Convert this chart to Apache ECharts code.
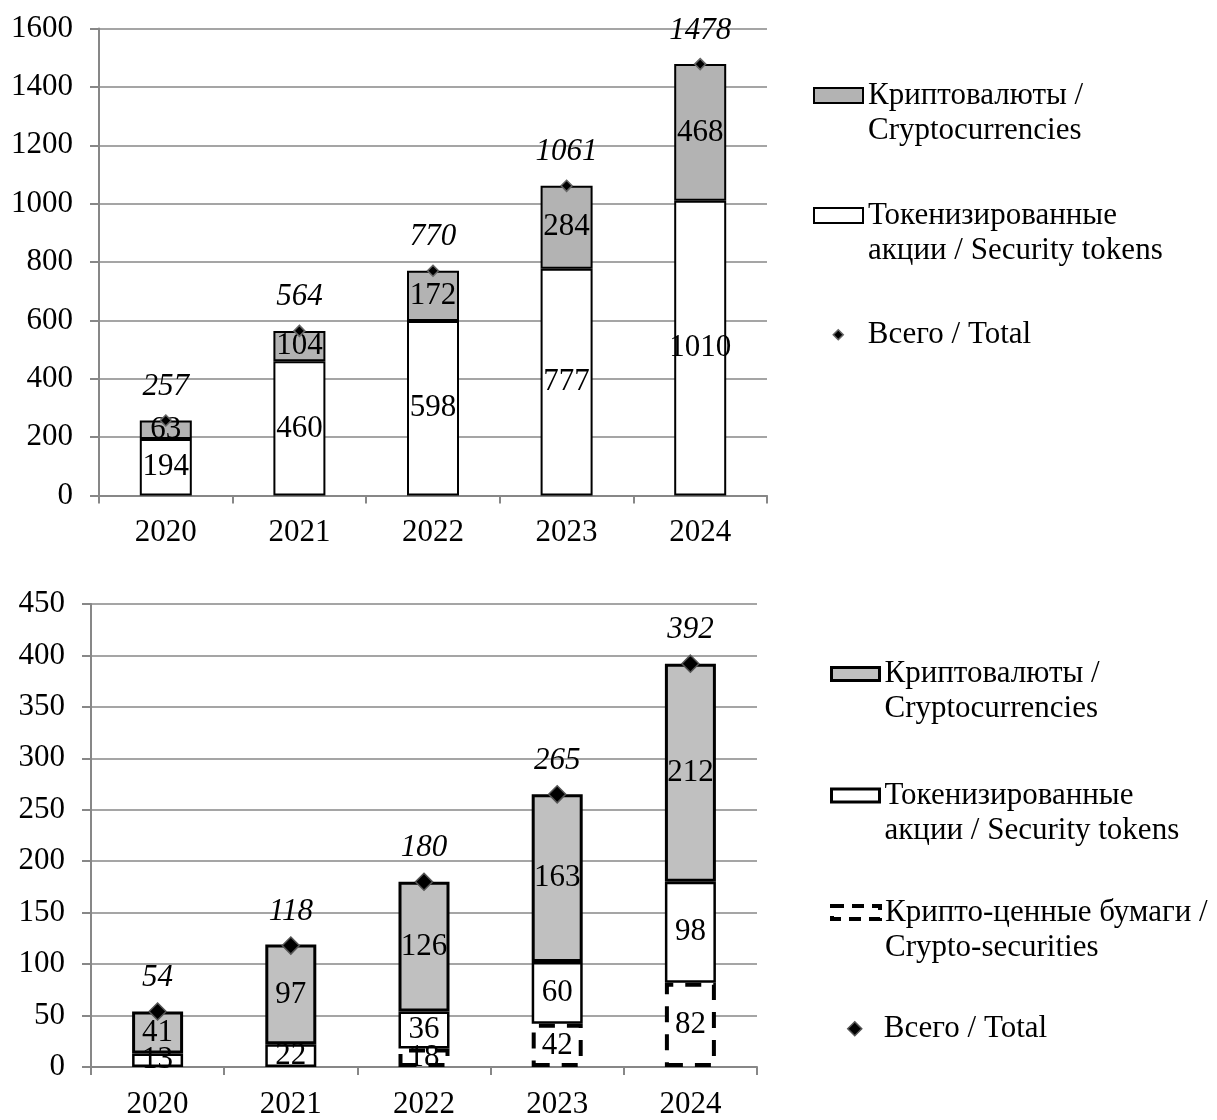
<!DOCTYPE html>
<html>
<head>
<meta charset="utf-8">
<script src="https://cdn.jsdelivr.net/npm/echarts@6/dist/echarts.min.js"></script>
<style>
html,body{margin:0;padding:0;background:#fff;}
#chart{width:1217px;height:1120px;}
</style>
</head>
<body>
<div id="chart"></div>
<script>
// ---- data ----
const years = ['2020', '2021', '2022', '2023', '2024'];
// top chart
const topTokens = [194, 460, 598, 777, 1010];
const topCrypto = [63, 104, 172, 284, 468];
const topTotal = [257, 564, 770, 1061, 1478];
// bottom chart
const botCryptoSec = [null, null, 18, 42, 82];
const botTokens = [13, 22, 36, 60, 98];
const botCrypto = [41, 97, 126, 163, 212];
const botTotal = [54, 118, 180, 265, 392];
// names
const nameCrypto = 'Криптовалюты /\nCryptocurrencies';
const nameTokens = 'Токенизированные\nакции / Security tokens';
const nameCryptoSec = 'Крипто-ценные бумаги /\nCrypto-securities';
const nameTotal = 'Всего / Total';

const FONT = 'Liberation Serif';
const FS = 31;
const AX = '#878787';

const chart = echarts.init(document.getElementById('chart'));

function yAxisCfg(gi, max, interval) {
  return {
    type: 'value', gridIndex: gi, min: 0, max: max, interval: interval,
    axisLine: { show: true, lineStyle: { color: AX, width: 2 } },
    axisTick: { show: true, length: 9, lineStyle: { color: AX, width: 2 } },
    splitLine: { show: true, lineStyle: { color: AX, width: 1.6 } },
    axisLabel: { color: '#000', fontFamily: FONT, fontSize: FS, margin: 26, formatter: (v) => String(v) }
  };
}
function xAxisCfg(gi) {
  return {
    type: 'category', gridIndex: gi, data: years,
    axisLine: { show: true, lineStyle: { color: AX, width: 2 } },
    axisTick: { show: true, length: 8, lineStyle: { color: AX, width: 2 } },
    axisLabel: { color: '#000', fontFamily: FONT, fontSize: FS, margin: 22 }
  };
}
const insideLabel = { show: true, position: 'inside', color: '#000', fontFamily: FONT, fontSize: FS };
const totalLabel = (d) => ({ show: true, position: 'top', distance: d, color: '#000', opacity: 1, fontFamily: FONT, fontSize: FS, fontStyle: 'italic', lineHeight: 31 });

function legendItem(left, top, itemWidth, itemHeight, name, icon, itemStyle) {
  return {
    orient: 'vertical', left: left, top: top, padding: 0,
    itemWidth: itemWidth, itemHeight: itemHeight, selectedMode: false,
    textStyle: { color: '#000', fontFamily: FONT, fontSize: FS, lineHeight: 35 },
    data: [{ name: name, icon: icon, itemStyle: itemStyle }]
  };
}

const option = {
  backgroundColor: '#fff',
  animation: false,
  grid: [
    { left: 99, top: 28.5, width: 668, height: 467 },
    { left: 91, top: 604, width: 666, height: 467 }
  ],
  xAxis: [xAxisCfg(0), xAxisCfg(1)],
  yAxis: [yAxisCfg(0, 1600, 200), yAxisCfg(1, 450, 50)],
  legend: [
    legendItem(813, 77, 49, 70, nameCrypto, 'path://M0,0M49,70M0,10H49V25H0Z',
      { color: '#b3b3b3', borderColor: '#000', borderWidth: 2 }),
    legendItem(813, 197, 49, 70, nameTokens, 'path://M0,0M49,70M0,10H49V25H0Z',
      { color: '#fff', borderColor: '#000', borderWidth: 2 }),
    legendItem(813, 316.5, 49, 35, nameTotal, 'path://M0,0M49,35M24.5,12.5L29.5,17.5L24.5,22.5L19.5,17.5Z',
      { color: '#000', borderColor: '#666', borderWidth: 1.5, opacity: 1 }),
    legendItem(830, 655, 48, 70, nameCrypto, 'path://M0,0M48,70M0,11H48V24H0Z',
      { color: '#c0c0c0', borderColor: '#000', borderWidth: 3 }),
    legendItem(830, 776.5, 48, 70, nameTokens, 'path://M0,0M48,70M0,11H48V24H0Z',
      { color: '#fff', borderColor: '#000', borderWidth: 3 }),
    legendItem(830, 893, 48, 70, nameCryptoSec, 'path://M0,0M48,70M0,11H48V24H0Z',
      { color: '#fff', borderColor: '#000', borderWidth: 4, borderType: [12, 8] }),
    legendItem(830, 1010.5, 48, 35, nameTotal, 'path://M0,0M48,35M24,10.5L31,17.5L24,24.5L17,17.5Z',
      { color: '#000', borderColor: '#555', borderWidth: 1.5, opacity: 1 })
  ],
  series: [
    // top chart
    { name: nameTokens, type: 'bar', xAxisIndex: 0, yAxisIndex: 0, stack: 'top', barWidth: 52,
      data: topTokens, itemStyle: { color: '#fff', borderColor: '#000', borderWidth: 2 }, label: insideLabel },
    { name: nameCrypto, type: 'bar', xAxisIndex: 0, yAxisIndex: 0, stack: 'top', barWidth: 52,
      data: topCrypto, itemStyle: { color: '#b3b3b3', borderColor: '#000', borderWidth: 2 }, label: insideLabel },
    { name: nameTotal, type: 'scatter', xAxisIndex: 0, yAxisIndex: 0, z: 5,
      data: topTotal, symbol: 'diamond', symbolSize: 11,
      itemStyle: { color: '#000', borderColor: '#666', borderWidth: 1.5, opacity: 1 }, label: totalLabel(12) },
    // bottom chart
    { name: nameCryptoSec, type: 'bar', xAxisIndex: 1, yAxisIndex: 1, stack: 'bot', barWidth: 51,
      data: botCryptoSec, itemStyle: { color: '#fff', borderColor: '#000', borderWidth: 4, borderType: [16, 12] }, label: insideLabel },
    { name: nameTokens, type: 'bar', xAxisIndex: 1, yAxisIndex: 1, stack: 'bot', barWidth: 51,
      data: botTokens, itemStyle: { color: '#fff', borderColor: '#000', borderWidth: 2.5 }, label: insideLabel },
    { name: nameCrypto, type: 'bar', xAxisIndex: 1, yAxisIndex: 1, stack: 'bot', barWidth: 51,
      data: botCrypto, itemStyle: { color: '#c0c0c0', borderColor: '#000', borderWidth: 3 }, label: insideLabel },
    { name: nameTotal, type: 'scatter', xAxisIndex: 1, yAxisIndex: 1, z: 5,
      data: botTotal, symbol: 'diamond', symbolSize: 17,
      itemStyle: { color: '#000', borderColor: '#555', borderWidth: 1.5, opacity: 1 }, label: totalLabel(9) }
  ]
};
chart.setOption(option);
</script>
</body>
</html>
